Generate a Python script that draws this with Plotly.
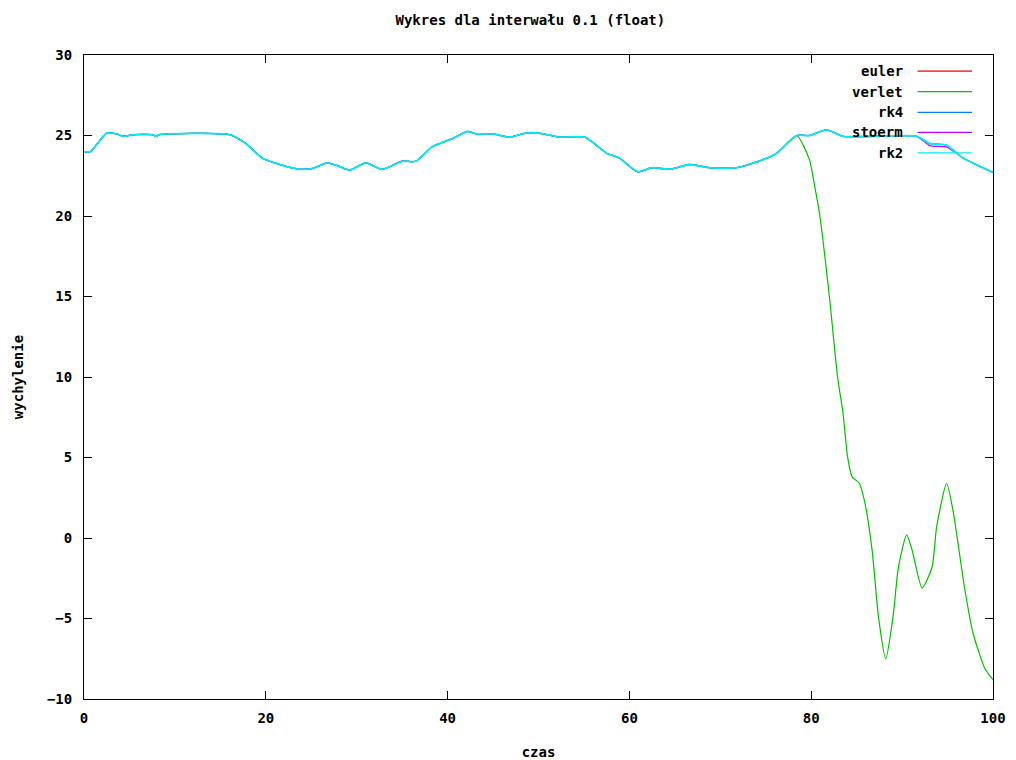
import plotly.graph_objects as go

# time axis and deflection values
t_main = [0, 0.7, 2.5, 3.6, 4.3, 5.5, 7.5, 7.9, 8.3, 16, 17.8, 19.6, 21.5, 23.7, 25.1,
          26.8, 28.0, 29.2, 31.0, 32.8, 35.0, 36.5, 38.3, 40.5, 42.2, 43.2, 45.0, 46.8,
          48.6, 50.0, 52.3, 55.1, 57.5, 58.9, 60.9, 62.5, 64.4, 66.6, 68.8, 71.8, 74.7,
          76.2, 78.4, 79.8, 81.7, 83.5, 87.0, 91.6, 93.1, 94.9, 96.7, 98.5, 100]
y_main = [24.0, 24.0, 25.15, 25.1, 24.95, 25.05, 25.05, 24.95, 25.05, 25.05, 24.5, 23.6,
          23.2, 22.9, 22.95, 23.3, 23.1, 22.85, 23.3, 22.9, 23.4, 23.4, 24.3, 24.8, 25.25,
          25.1, 25.1, 24.9, 25.15, 25.15, 24.9, 24.9, 23.9, 23.6, 22.75, 23.0, 22.9, 23.2,
          23.0, 23.0, 23.5, 23.9, 25.0, 25.0, 25.35, 24.95, 24.95, 24.95, 24.5, 24.4, 23.6,
          23.1, 22.7]

# stoerm runs a hair below the others near t=93..95
y_stoerm = list(y_main)
y_stoerm[t_main.index(93.1)] = 24.35
y_stoerm[t_main.index(94.9)] = 24.3

t_verlet_tail = [79.8, 80.4, 80.9, 82.0, 82.9, 83.5, 84.0, 84.5, 85.3, 85.9, 86.7, 87.4,
                 88.2, 89.0, 89.6, 90.5, 91.1, 92.2, 93.3, 93.8, 94.9, 95.6, 96.9, 97.8,
                 99.1, 100]
y_verlet_tail = [23.5, 21.8, 20.2, 15.0, 10.0, 7.75, 5.05, 3.8, 3.4, 2.2, -0.75, -4.9,
                 -7.5, -4.9, -1.8, 0.2, -0.75, -3.1, -1.8, 0.7, 3.4, 1.7, -3.2, -5.9,
                 -8.1, -8.8]

n_shared = t_main.index(78.4) + 1
t_verlet = t_main[:n_shared] + t_verlet_tail
y_verlet = y_main[:n_shared] + y_verlet_tail

names = ["euler", "verlet", "rk4", "stoerm", "rk2"]
colors = ["#ff0000", "#00c000", "#0080ff", "#c000ff", "#00eeee"]
widths = [1.0, 1.2, 1.0, 1.3, 1.8]
series_t = [t_main, t_verlet, t_main, t_main, t_main]
series_y = [y_main, y_verlet, y_main, y_stoerm, y_main]

x_ticks = [0, 20, 40, 60, 80, 100]
y_ticks = [-10, -5, 0, 5, 10, 15, 20, 25, 30]

FONT = "DejaVu Sans Mono"

fig = go.Figure()
for name, col, w, tx, ty in zip(names, colors, widths, series_t, series_y):
    fig.add_trace(go.Scatter(x=tx, y=ty, mode="lines", name=name,
                             line=dict(color=col, width=w, shape="spline", smoothing=0.6),
                             showlegend=False))

# gnuplot-style key: text right-aligned, line sample to the right
row_y = [0.975, 0.943, 0.911, 0.880, 0.848]
for name, col, ry in zip(names, colors, row_y):
    fig.add_annotation(x=0.903, y=ry, xref="paper", yref="paper", text=name,
                       showarrow=False, xanchor="right", yanchor="middle",
                       font=dict(family=FONT, size=14, color="black", weight="bold"))
    fig.add_shape(type="line", xref="paper", yref="paper", x0=0.917, x1=0.977,
                  y0=ry, y1=ry, line=dict(color=col, width=1.2))

tick_font = dict(family=FONT, size=14, color="black", weight="bold")
axis_common = dict(showline=True, linecolor="black", linewidth=1, mirror="ticks",
                   ticks="inside", ticklen=8, tickcolor="black", tickwidth=1,
                   showgrid=False, zeroline=False, tickfont=tick_font, automargin=False)

fig.update_xaxes(range=[0, 100], tickvals=x_ticks, ticklabelstandoff=6, **axis_common,
                 title=dict(text="czas", standoff=22, font=tick_font))
fig.update_yaxes(range=[-10, 30], tickvals=y_ticks, ticklabelstandoff=8, **axis_common,
                 title=dict(text="wychylenie", standoff=20, font=tick_font))

fig.update_layout(
    width=1016, height=760,
    margin=dict(l=84, r=23, t=55, b=61),
    paper_bgcolor="white", plot_bgcolor="white",
    title=dict(text="Wykres dla interwału 0.1 (float)", x=0.522, xanchor="center",
               y=0.973, yanchor="middle", font=tick_font),
)

fig.write_html("out.html")
